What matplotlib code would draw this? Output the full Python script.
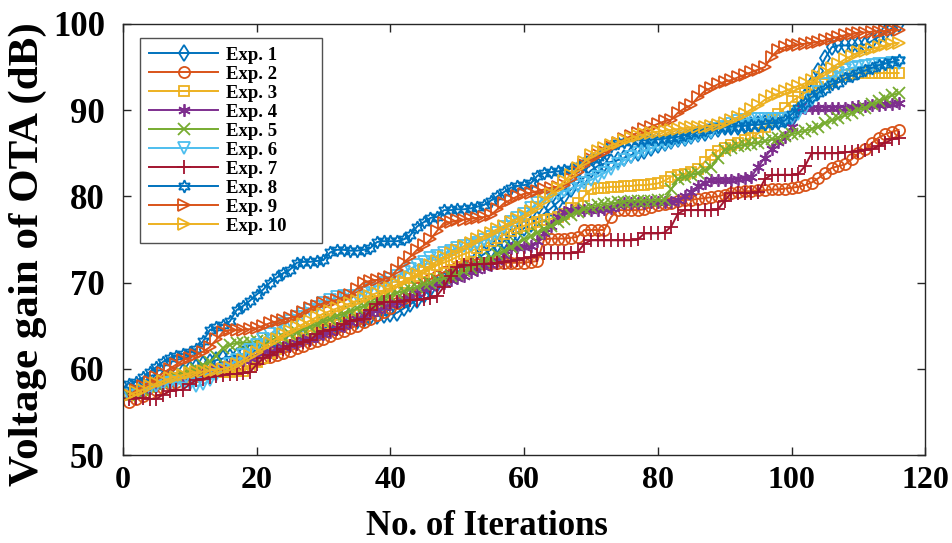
import matplotlib
matplotlib.use("Agg")
import matplotlib.pyplot as plt
import numpy as np

iterations = list(range(1, 117))

exp1 = [57.5, 57.8, 58.0, 58.3, 58.6, 58.8, 59.0, 59.3, 59.6, 60.0,
        60.2, 60.5, 60.8, 61.0, 61.2, 61.4, 61.5, 61.7, 61.9, 62.1,
        62.3, 62.5, 62.7, 63.0, 63.2, 63.4, 63.7, 64.0, 64.2, 64.5,
        64.8, 65.0, 65.2, 65.5, 65.5, 65.8, 66.0, 66.1, 66.2, 66.3,
        66.5, 67.0, 67.5, 68.0, 68.6, 69.2, 69.8, 70.3, 70.8, 71.2,
        71.7, 72.2, 72.8, 73.3, 73.8, 74.3, 74.8, 75.3, 75.8, 76.3,
        76.8, 77.4, 78.0, 78.6, 79.3, 80.0, 80.8, 81.5, 82.2, 83.0,
        83.5, 83.8, 84.0, 84.2, 84.5, 84.8, 85.0, 85.3, 85.6, 85.9,
        86.2, 86.4, 86.6, 86.8, 87.0, 87.2, 87.4, 87.6, 87.8, 88.0,
        88.0, 88.1, 88.2, 88.3, 88.4, 88.5, 88.6, 88.7, 88.8, 89.0,
        90.0, 91.5, 93.0, 94.5, 96.0, 97.3, 97.5, 97.5, 97.5, 97.5,
        97.6, 98.0, 98.5, 99.0, 99.5, 100.0]

exp2 = [56.2, 56.5, 56.8, 57.2, 57.5, 57.8, 58.2, 58.5, 58.8, 59.0,
        59.2, 59.4, 59.6, 59.8, 60.0, 60.2, 60.4, 60.6, 60.8, 61.0,
        61.2, 61.4, 61.6, 61.8, 62.1, 62.4, 62.7, 63.0, 63.2, 63.5,
        63.8, 64.1, 64.4, 64.7, 65.0, 65.4, 65.8, 66.2, 66.6, 67.0,
        67.6, 68.2, 68.8, 69.4, 70.0, 70.4, 70.8, 71.2, 71.5, 71.8,
        72.0, 72.1, 72.2, 72.3, 72.3, 72.3, 72.3, 72.3, 72.3, 72.3,
        72.4, 72.5, 75.0, 75.1, 75.1, 75.1, 75.2, 75.3, 76.1, 76.1,
        76.1, 76.1, 77.6, 78.4, 78.4, 78.4, 78.4, 78.5, 78.8, 79.0,
        79.1, 79.2, 79.5, 79.6, 79.6, 79.7, 79.8, 79.9, 80.0, 80.2,
        80.4, 80.5, 80.6, 80.6, 80.7, 80.7, 80.8, 80.8, 80.9, 81.0,
        81.1, 81.3, 81.6, 82.1, 82.7, 83.3, 83.5, 83.7, 84.3, 85.0,
        85.5, 86.2, 86.8, 87.2, 87.5, 87.7]

exp3 = [57.0, 57.3, 57.6, 57.9, 58.2, 58.5, 58.7, 58.9, 59.1, 59.3,
        59.4, 59.5, 59.6, 59.6, 59.6, 59.6, 59.7, 59.8, 60.2, 60.8,
        61.3, 61.8, 62.3, 62.8, 63.2, 63.6, 64.0, 64.4, 64.8, 65.2,
        65.5, 65.7, 65.9, 66.0, 66.2, 66.6, 67.2, 67.8, 68.4, 69.0,
        69.5, 70.0, 70.5, 70.8, 71.2, 71.6, 72.0, 72.3, 72.6, 73.0,
        73.3, 73.6, 74.0, 74.4, 74.8, 75.2, 75.6, 76.0, 76.3, 76.6,
        76.8, 77.0, 77.2, 77.4, 77.6, 78.0, 78.6, 79.2, 80.0, 80.8,
        81.0, 81.0, 81.1, 81.1, 81.2, 81.2, 81.3, 81.3, 81.4, 81.5,
        81.8, 82.3, 82.5, 82.6, 82.8, 83.2, 84.0, 84.8, 85.3, 85.6,
        85.9, 86.2, 86.5, 86.8, 87.3, 88.0, 88.8, 89.5, 90.3, 91.0,
        91.5, 92.0, 92.4, 92.7, 93.0, 93.4, 93.8, 94.1, 94.2, 94.3,
        94.3, 94.3, 94.3, 94.3, 94.3, 94.3]

exp4 = [57.0, 57.2, 57.5, 57.8, 58.0, 58.3, 58.5, 58.8, 59.0, 59.2,
        59.4, 59.6, 59.8, 60.0, 60.2, 60.5, 60.8, 61.0, 61.3, 61.5,
        61.8, 62.0, 62.3, 62.5, 62.8, 63.0, 63.3, 63.5, 63.8, 64.0,
        64.3, 64.7, 65.0, 65.4, 65.8, 66.2, 66.5, 66.8, 67.2, 67.5,
        67.8, 68.2, 68.5, 68.8, 69.2, 69.5, 69.8, 70.0, 70.3, 70.5,
        70.8, 71.2, 71.5, 71.8, 72.0, 72.5, 73.2, 74.0, 74.1, 74.1,
        74.2, 74.8, 75.7, 76.6, 77.6, 78.2, 78.4, 78.4, 78.4, 78.4,
        78.4, 78.5, 78.6, 79.0, 79.2, 79.2, 79.2, 79.2, 79.3, 79.3,
        79.4, 79.4, 79.6, 80.0, 80.5, 81.2, 81.6, 81.9, 81.9, 81.9,
        81.9, 82.0, 82.1, 82.3, 83.4, 84.5, 85.5, 86.3, 86.9, 88.0,
        90.0, 90.2, 90.3, 90.3, 90.3, 90.3, 90.3, 90.3, 90.4, 90.5,
        90.5, 90.6, 90.6, 90.7, 90.7, 90.8]

exp5 = [57.0, 57.3, 57.6, 57.9, 58.2, 58.5, 58.8, 59.1, 59.4, 59.7,
        60.0, 60.4, 60.8, 61.5, 62.4, 62.8, 63.0, 63.0, 63.1, 63.2,
        63.3, 63.4, 63.5, 63.7, 64.0, 64.3, 64.6, 64.9, 65.2, 65.5,
        65.8, 66.1, 66.4, 66.7, 67.0, 67.3, 67.6, 67.9, 68.2, 68.5,
        68.8, 69.0, 69.3, 69.5, 69.8, 70.0, 70.3, 70.5, 70.8, 71.0,
        71.3, 71.7, 72.1, 72.5, 72.9, 73.3, 73.7, 74.1, 74.5, 75.0,
        75.4, 75.8, 76.2, 76.6, 77.0, 77.4, 77.8, 78.2, 78.5, 78.8,
        79.0, 79.1, 79.2, 79.3, 79.4, 79.5, 79.5, 79.5, 79.5, 79.6,
        79.6, 80.8, 82.0, 82.3, 82.5, 82.7, 83.0, 83.4, 84.4, 85.4,
        85.6, 85.8, 86.0, 86.1, 86.2, 86.4, 86.6, 86.8, 87.0, 87.2,
        87.4, 87.6, 87.8, 88.1, 88.5, 88.8, 89.1, 89.4, 89.7, 90.0,
        90.3, 90.7, 91.0, 91.4, 91.7, 92.0]

exp6 = [57.0, 57.3, 57.6, 57.8, 58.0, 58.2, 58.4, 58.5, 58.4, 58.2,
        58.0, 58.2, 58.7, 59.3, 59.9, 60.5, 61.0, 61.6, 62.2, 62.8,
        63.4, 64.0, 64.6, 65.2, 65.6, 66.0, 66.4, 66.8, 67.2, 67.6,
        68.0, 68.3, 68.4, 68.4, 68.5, 68.8, 69.2, 69.6, 70.0, 70.4,
        70.8, 71.2, 71.6, 72.0, 72.4, 72.8, 73.1, 73.4, 73.7, 74.0,
        74.2, 74.4, 74.6, 74.9, 75.3, 75.8, 76.4, 77.0, 77.5, 78.0,
        78.6, 79.2, 79.8, 80.1, 80.3, 80.6, 80.9, 81.2, 81.5, 81.9,
        82.3, 82.7, 83.2, 83.7, 84.2, 84.6, 85.0, 85.3, 85.6, 85.9,
        86.1, 86.3, 86.5, 86.7, 86.9, 87.1, 87.3, 87.5, 87.8, 88.1,
        88.4, 88.7, 88.9, 89.0, 89.0, 89.0, 89.0, 89.0, 89.0, 89.1,
        89.5, 90.3, 91.2, 92.1, 93.0, 93.8, 94.3, 94.7, 94.9, 95.0,
        95.1, 95.2, 95.3, 95.4, 95.5, 95.5]

exp7 = [56.5, 56.6, 56.6, 56.5, 56.5, 57.0, 57.4, 57.5, 57.6, 58.2,
        58.7, 58.8, 59.1, 59.2, 59.3, 59.4, 59.4, 59.5, 59.6, 60.5,
        61.2, 61.6, 61.9, 62.3, 62.6, 62.9, 63.1, 63.3, 64.0, 64.4,
        64.5, 64.6, 65.2, 65.6, 65.7, 65.8, 66.8, 67.5, 67.7, 67.8,
        67.8, 67.9, 68.0, 68.0, 68.1, 68.2, 68.5, 69.5, 70.8, 71.8,
        72.0, 72.0, 72.1, 72.2, 72.2, 72.3, 72.4, 72.5, 72.6, 72.8,
        73.0, 73.2, 73.4, 73.4, 73.4, 73.4, 73.4, 73.5, 74.5, 74.9,
        74.9, 74.9, 74.9, 74.9, 74.9, 74.9, 75.0, 75.7, 75.7, 75.7,
        75.8, 76.5, 78.0, 78.4, 78.4, 78.4, 78.4, 78.4, 78.5, 79.5,
        80.4, 80.4, 80.4, 80.4, 80.5, 82.0, 82.5, 82.5, 82.5, 82.5,
        82.6, 83.5, 85.0, 85.0, 85.0, 85.0, 85.0, 85.1, 85.2, 85.3,
        85.4, 85.5, 85.8, 86.2, 86.6, 86.8]

exp8 = [58.2, 58.5, 59.0, 59.6, 60.2, 60.8, 61.3, 61.5, 61.7, 62.0,
        62.3, 63.2, 64.5, 64.8, 65.1, 65.5, 66.8, 67.3, 67.9, 68.6,
        69.2, 70.0, 70.6, 71.1, 71.5, 72.3, 72.4, 72.4, 72.5, 72.6,
        73.5, 73.8, 73.8, 73.7, 73.7, 73.8, 74.0, 74.7, 74.8, 74.8,
        74.8, 75.0, 75.5, 76.5, 77.0, 77.5, 77.6, 78.4, 78.4, 78.5,
        78.5, 78.6, 78.8, 79.0, 79.5, 80.0, 80.5, 81.0, 81.2, 81.3,
        81.5, 82.4, 82.7, 82.8, 82.9, 83.0, 83.2, 83.5, 83.9, 84.3,
        84.6, 85.2, 85.8, 86.2, 86.3, 86.4, 86.5, 86.5, 86.6, 86.6,
        86.7, 86.8, 86.9, 87.1, 87.3, 87.5, 87.7, 88.0, 88.0, 88.1,
        88.1, 88.2, 88.2, 88.3, 88.3, 88.4, 88.5, 88.5, 88.8, 89.5,
        90.2, 90.8, 91.5, 92.0, 92.5, 93.0, 93.2, 93.7, 94.0, 94.3,
        94.6, 94.9, 95.2, 95.4, 95.6, 95.8]

exp9 = [57.0, 57.5, 58.0, 58.5, 59.0, 59.5, 60.0, 60.5, 61.0, 61.3,
        61.6, 62.0, 62.5, 63.4, 64.3, 64.5, 64.5, 64.5, 64.6, 64.7,
        65.0, 65.3, 65.5, 65.7, 65.9, 66.1, 66.6, 67.0, 67.3, 67.6,
        67.8, 68.0, 68.3, 68.6, 69.3, 70.0, 70.2, 70.3, 70.4, 70.6,
        71.5, 72.3, 73.0, 73.8, 74.3, 75.0, 76.0, 76.9, 77.0, 77.2,
        77.3, 77.4, 77.5, 77.6, 77.8, 78.5, 79.2, 79.6, 80.0, 80.3,
        80.4, 80.6, 80.8, 81.0, 81.1, 81.3, 82.0, 82.8, 83.6, 84.3,
        84.8, 85.2, 85.7, 86.2, 86.6, 87.0, 87.4, 87.8, 88.1, 88.4,
        88.7, 88.9, 89.7, 90.2, 90.6, 91.5, 92.2, 92.6, 93.0, 93.3,
        93.5, 93.8, 94.1, 94.4, 94.7, 95.0, 96.2, 97.0, 97.3, 97.5,
        97.6, 97.7, 97.8, 97.9, 98.1, 98.3, 98.5, 98.7, 98.8, 99.0,
        99.0, 99.1, 99.1, 99.2, 99.3, 99.3]

exp10 = [57.0, 57.3, 57.6, 58.0, 58.3, 58.6, 58.9, 59.1, 59.3, 59.5,
         59.6, 59.7, 59.8, 59.9, 60.0, 60.2, 60.6, 61.0, 61.5, 62.0,
         62.5, 63.0, 63.5, 64.0, 64.4, 64.8, 65.2, 65.6, 66.0, 66.4,
         66.7, 67.0, 67.3, 67.6, 67.9, 68.2, 68.5, 68.8, 69.1, 69.4,
         69.8, 70.2, 70.6, 71.0, 71.5, 72.0, 72.5, 73.0, 73.4, 73.8,
         74.2, 74.6, 75.0, 75.4, 75.8, 76.2, 76.6, 77.0, 77.4, 77.8,
         78.3, 78.8, 79.5, 80.3, 81.0, 81.8, 82.5, 83.3, 84.0, 84.8,
         85.3, 85.6, 85.9, 86.2, 86.5, 86.8, 87.0, 87.2, 87.4, 87.5,
         87.6, 87.7, 87.8, 87.9, 88.0, 88.0, 88.1, 88.2, 88.3, 88.5,
         88.8, 89.2, 89.6, 90.1, 90.6, 91.2, 91.6, 91.9, 92.2, 92.5,
         92.8, 93.1, 93.5, 93.9, 94.4, 94.9, 95.4, 95.9, 96.3, 96.7,
         96.9, 97.1, 97.3, 97.5, 97.7, 97.8]

labels = ["Exp. 1", "Exp. 2", "Exp. 3", "Exp. 4", "Exp. 5",
          "Exp. 6", "Exp. 7", "Exp. 8", "Exp. 9", "Exp. 10"]
series = [exp1, exp2, exp3, exp4, exp5, exp6, exp7, exp8, exp9, exp10]
colors = ["#0072BD", "#D95319", "#EDB120", "#7E2F8E", "#77AC30",
          "#4DBEEE", "#A2142F", "#0072BD", "#D95319", "#EDB120"]
markers = ["d", "o", "s", (6, 2, 0), "x", "v", "+", (6, 1, 0), ">", ">"]
msizes = [8, 8, 7, 9, 8, 8, 10, 9, 8, 8]

plt.rcParams["font.family"] = ["Liberation Serif", "DejaVu Serif"]
plt.rcParams["font.weight"] = "bold"

fig = plt.figure(figsize=(9.52, 5.43), dpi=100)
ax = fig.add_axes([0.129, 0.162, 0.843, 0.794])

for y, lab, c, m, ms in zip(series, labels, colors, markers, msizes):
    ax.plot(iterations, y, color=c, marker=m, markersize=ms,
            markerfacecolor="none", markeredgecolor=c, markeredgewidth=1.3,
            linewidth=1.4, label=lab)

ax.set_xlim(0, 120)
ax.set_ylim(50, 100)
ax.set_xticks([0, 20, 40, 60, 80, 100, 120])
ax.set_yticks([50, 60, 70, 80, 90, 100])
ax.tick_params(direction="in", top=True, right=True, length=6, width=1,
               colors="#262626")
ax.tick_params(axis="y", pad=13, labelsize=25)
ax.tick_params(axis="x", pad=8, labelsize=23)
for lab in ax.get_xticklabels() + ax.get_yticklabels():
    lab.set_fontweight("bold")
    lab.set_color("black")
for s in ax.spines.values():
    s.set_linewidth(1.0)
    s.set_color("#262626")

ax.set_xlabel("No. of Iterations", fontsize=25, fontweight="bold")
ax.set_ylabel("Voltage gain of OTA (dB)", fontsize=31, fontweight="bold")
ax.xaxis.set_label_coords(0.454, -0.127)
ax.yaxis.set_label_coords(-0.095, 0.465)

leg_w = 0.226
leg_h = 0.48
leg = ax.legend(loc="upper left", bbox_to_anchor=(0.022, 0.967 - leg_h, leg_w, leg_h),
                mode="expand", borderaxespad=0,
                prop={"size": 13.5, "weight": "bold"}, handlelength=3.7,
                handletextpad=0.43, labelspacing=0.1, borderpad=0.45,
                frameon=True, fancybox=False, edgecolor="#262626")
leg.get_frame().set_linewidth(1.0)

fig.savefig("out.png", dpi=100)
